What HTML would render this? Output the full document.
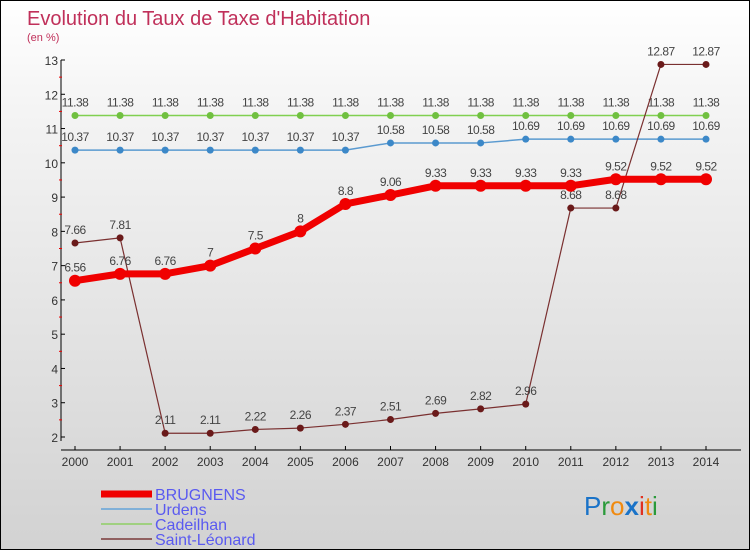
<!DOCTYPE html>
<html><head><meta charset="utf-8"><style>
body{margin:0}
#c{width:750px;height:550px;position:relative;box-sizing:border-box;border:1px solid #000;background:linear-gradient(#ffffff 0%,#f4f4f4 20%,#d2d2d2 100%);font-family:"Liberation Sans",sans-serif;overflow:hidden}
</style></head><body>
<div id="c">
<svg id="s" width="748" height="548" xmlns="http://www.w3.org/2000/svg">
<text x="26" y="24" font-size="20" fill="#c0305a">Evolution du Taux de Taxe d'Habitation</text>
<text x="26" y="40" font-size="11" fill="#c0305a">(en %)</text>
<text x="583" y="514" font-size="26" font-family="Liberation Sans, sans-serif"><tspan fill="#1a73c8">P</tspan><tspan fill="#2a9a3a">r</tspan><tspan fill="#f08a10">o</tspan><tspan fill="#1a73c8" font-weight="bold">x</tspan><tspan fill="#e03020">i</tspan><tspan fill="#f08a10">t</tspan><tspan fill="#2a9a3a">i</tspan></text>
</svg>
</div>
<script>
const years=[2000,2001,2002,2003,2004,2005,2006,2007,2008,2009,2010,2011,2012,2013,2014];
const brugnens=[6.56,6.76,6.76,7,7.5,8,8.8,9.06,9.33,9.33,9.33,9.33,9.52,9.52,9.52];
const urdens=[10.37,10.37,10.37,10.37,10.37,10.37,10.37,10.58,10.58,10.58,10.69,10.69,10.69,10.69,10.69];
const cadeilhan=[11.38,11.38,11.38,11.38,11.38,11.38,11.38,11.38,11.38,11.38,11.38,11.38,11.38,11.38,11.38];
const saintLeonard=[7.66,7.81,2.11,2.11,2.22,2.26,2.37,2.51,2.69,2.82,2.96,8.68,8.68,12.87,12.87];
const yTicks=[2,3,4,5,6,7,8,9,10,11,12,13];
const seriesNames=['BRUGNENS','Urdens','Cadeilhan','Saint-Léonard'];
const NS='http://www.w3.org/2000/svg';
const s=document.getElementById('s');
const X=i=>74+i*(705-74)/(years.length-1);
const Y=v=>436-(v-2)*(436-59)/11;
function mk(t,a,p){const e=document.createElementNS(NS,t);for(const k in a)e.setAttribute(k,a[k]);(p||s).appendChild(e);return e;}
const ax=mk('g',{});


mk('line',{x1:60,y1:59,x2:60,y2:440,stroke:'#000'},ax);
mk('line',{x1:60,y1:449,x2:740,y2:449,stroke:'#000'},ax);
yTicks.forEach((v,i)=>{
 mk('line',{x1:60,y1:Y(v),x2:64,y2:Y(v),stroke:'#000'},ax);
 if(i<yTicks.length-1)mk('line',{x1:58,y1:Y(v+0.5),x2:61,y2:Y(v+0.5),stroke:'#e00'},ax);
 const t=mk('text',{x:57,y:Y(v)+5,'font-size':12,fill:'#333','text-anchor':'end'},ax);t.textContent=v;
 
 
});
years.forEach((y,i)=>{
 mk('line',{x1:X(i),y1:445,x2:X(i),y2:449,stroke:'#000'},ax);
 const t=mk('text',{x:X(i),y:465,'font-size':12,fill:'#333','text-anchor':'middle'},ax);t.textContent=y;
 
 
});
function series(vals,color,w,r,name,dotColor){
 const g=mk('g',{});
 
 
 mk('polyline',{points:vals.map((v,i)=>X(i)+','+Y(v)).join(' '),fill:'none',stroke:color,'stroke-width':w,'stroke-linejoin':'round'},g);
 vals.forEach((v,i)=>{
  const c=mk('circle',{cx:X(i),cy:Y(v),r:r,fill:dotColor},g);
  
  
  const t=mk('text',{x:X(i),y:Y(v)-9,'font-size':12,fill:'#444','text-anchor':'middle','letter-spacing':'-0.5'},g);
  t.textContent=v;
  
  
 });
}
series(cadeilhan,'#80d050',1.5,3.5,'cadeilhan-series','#70c040');
series(urdens,'#5a9ad0',1.5,3.5,'urdens-series','#3c88c8');
series(saintLeonard,'#7a3030',1.2,3.5,'saint-leonard-series','#6a1a1a');
series(brugnens,'#f00000',7,6,'brugnens-series','#f00000');
const lg=mk('g',{});


const lc=['#f00000','#80b0d8','#a0d080','#906060'],lw=[7,2,2,2],ly=[493,508,523,538];
seriesNames.forEach((n,i)=>{
 const e=mk('g',{},lg);
 
 
 mk('line',{x1:100,y1:ly[i],x2:151,y2:ly[i],stroke:lc[i],'stroke-width':lw[i]},e);
 const t=mk('text',{x:154,y:ly[i]+6,'font-size':16,fill:'#5a5af0'},e);t.textContent=n;
});
</script>
</body></html>
